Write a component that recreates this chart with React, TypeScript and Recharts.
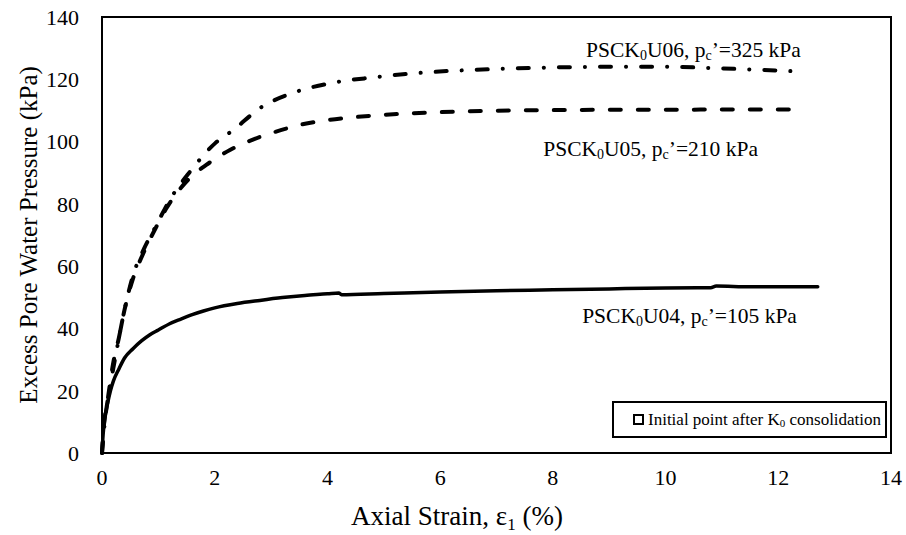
import React from "react"
import { LineChart, Line, XAxis, YAxis, Legend, ReferenceArea, ReferenceDot } from "recharts"

const FONT = '"Liberation Serif", "Times New Roman", serif'

// PSCK0U04, pc'=105 kPa (solid)
const u04Strain = [0, 0.02, 0.05, 0.1, 0.15, 0.2, 0.3, 0.4, 0.55, 0.7, 0.85, 1.0, 1.2, 1.4, 1.6, 1.8, 2.0, 2.4, 2.8, 3.2, 3.6, 4.0, 4.2, 4.25, 5, 6, 7, 8, 9, 10, 10.8, 10.9, 11.5, 12, 12.7]
const u04Pressure = [0, 6, 11, 16, 20, 23, 27, 30.5, 33.5, 36, 38, 39.5, 41.5, 43, 44.4, 45.6, 46.6, 48, 49, 49.9, 50.6, 51.1, 51.4, 50.8, 51.2, 51.7, 52.1, 52.4, 52.7, 53, 53.1, 53.6, 53.4, 53.4, 53.4]

// PSCK0U05, pc'=210 kPa (dashed)
const u05Strain = [0, 0.03, 0.1, 0.2, 0.3, 0.4, 0.55, 0.73, 0.96, 1.14, 1.37, 1.6, 1.85, 2.27, 2.7, 3.09, 3.5, 3.92, 4.4, 4.93, 5.93, 7, 8, 9, 10, 11, 12.48]
const u05Pressure = [0, 8, 17, 29, 37, 46, 56, 64, 72.5, 78.5, 84.5, 89, 92.5, 97.3, 100.8, 103.2, 105.3, 106.7, 107.7, 108.5, 109.4, 109.9, 110.1, 110.2, 110.2, 110.3, 110.3]

// PSCK0U06, pc'=325 kPa (dash-dot)
const u06Strain = [0, 0.05, 0.15, 0.25, 0.4, 0.55, 0.73, 0.96, 1.2, 1.56, 2.01, 2.33, 2.8, 3.45, 4.04, 4.81, 5.75, 7, 8, 9, 10, 11, 12, 12.4]
const u06Pressure = [0, 10, 22, 32, 46, 57, 65, 73, 81.2, 90.3, 99.5, 103.7, 110.7, 116, 118.7, 120.6, 122.2, 123.3, 123.8, 124, 124, 123.5, 122.8, 122.5]

const xTicks = [0, 2, 4, 6, 8, 10, 12, 14]
const yTicks = [0, 20, 40, 60, 80, 100, 120, 140]

// annotation anchors (right end of text, baseline) in data units
const noteIds = ["U06", "U05", "U04"]
const notePc = ["325", "210", "105"]
const noteX = [12.4, 11.64, 12.33]
const noteY = [127.3, 95.5, 41.7]

const toPoints = (xs: number[], ys: number[]) => xs.map((x, i) => ({ x, y: ys[i] }))

const u04 = toPoints(u04Strain, u04Pressure)
const u05 = toPoints(u05Strain, u05Pressure)
const u06 = toPoints(u06Strain, u06Pressure)

function YTitle({ viewBox }: any) {
  const cx = viewBox.x + 28
  const cy = viewBox.y + viewBox.height / 2
  return (
    <text x={cx} y={cy} transform={`rotate(-90 ${cx} ${cy})`} textAnchor="middle" dominantBaseline="central"
      fontFamily={FONT} fontSize={25} fill="#000">
      Excess Pore Water Pressure (kPa)
    </text>
  )
}

function XTitle() {
  return (
    <text x={457} y={525} textAnchor="middle" fontFamily={FONT} fontSize={27} fill="#000">
      Axial Strain, ε<tspan fontSize={17} dy={5}>1</tspan>
      <tspan dy={-5}> (%)</tspan>
    </text>
  )
}

function Note({ cx, cy, id, pc }: any) {
  return (
    <text x={cx} y={cy} textAnchor="end" fontFamily={FONT} fontSize={21.5} fill="#000">
      PSCK<tspan fontSize={14} dy={3}>0</tspan>
      <tspan dy={-3}>{id}, p</tspan>
      <tspan fontSize={14} dy={3}>c</tspan>
      <tspan dy={-3}>’={pc} kPa</tspan>
    </text>
  )
}

function LegendBox() {
  return (
    <div style={{
      boxSizing: "border-box", width: 275, height: 37, border: "2px solid #000", background: "#fff",
      display: "flex", alignItems: "center", paddingLeft: 19, fontFamily: FONT, fontSize: 17, color: "#000",
    }}>
      <span style={{ display: "inline-block", boxSizing: "border-box", width: 11, height: 11, border: "2.5px solid #000", marginRight: 4 }} />
      <span>Initial point after K<sub style={{ fontSize: 11, verticalAlign: "-2px" }}>0</sub> consolidation</span>
    </div>
  )
}

export default function App() {
  return (
    <div style={{ position: "absolute", left: 0, top: 0, background: "#fff" }}>
      <LineChart width={906} height={535} margin={{ top: 17, right: 15, bottom: 0, left: 0 }}>
        <XAxis
          type="number"
          dataKey="x"
          domain={[0, 14]}
          ticks={xTicks}
          height={82}
          axisLine={false}
          tickLine={false}
          tickSize={0}
          tickMargin={16}
          tick={{ fontSize: 22, fill: "#000", fontFamily: FONT }}
          label={<XTitle />}
        />
        <YAxis
          type="number"
          domain={[0, 140]}
          ticks={yTicks}
          width={102}
          axisLine={false}
          tickLine={false}
          tickSize={0}
          tickMargin={23}
          tick={{ fontSize: 22, fill: "#000", fontFamily: FONT }}
          label={<YTitle />}
        />
        <Line data={u06} dataKey="y" type="monotone" stroke="#000" strokeWidth={4} strokeDasharray="11 15 0.1 15"
          strokeLinecap="round" dot={false} activeDot={false} isAnimationActive={false} />
        <Line data={u05} dataKey="y" type="monotone" stroke="#000" strokeWidth={4} strokeDasharray="11 17"
          strokeLinecap="round" dot={false} activeDot={false} isAnimationActive={false} />
        <Line data={u04} dataKey="y" type="monotone" stroke="#000" strokeWidth={3.5}
          strokeLinecap="round" dot={false} activeDot={false} isAnimationActive={false} />
        <ReferenceArea x1={0} x2={14} y1={0} y2={140} fill="none" fillOpacity={0} stroke="#000" strokeWidth={2} />
        {noteIds.map((id, i) => (
          <ReferenceDot key={id} x={noteX[i]} y={noteY[i]} r={0}
            shape={(p: any) => <Note cx={p.cx} cy={p.cy} id={id} pc={notePc[i]} />} />
        ))}
        <Legend
          layout="horizontal"
          verticalAlign="middle"
          align="center"
          wrapperStyle={{ left: 612, top: 401, width: 275, height: 37 }}
          content={() => <LegendBox />}
        />
      </LineChart>
    </div>
  )
}
